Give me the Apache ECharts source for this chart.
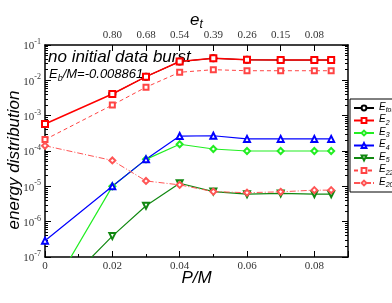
<!DOCTYPE html>
<html><head><meta charset="utf-8">
<script src="https://cdn.jsdelivr.net/npm/echarts@6/dist/echarts.min.js"></script>
<style>html,body{margin:0;padding:0;background:#fff}#c{width:392px;height:303px}</style>
</head><body><div id="c"></div>
<script>
// P/M positions of the data points
const pm = [0, 0.02, 0.03, 0.04, 0.05, 0.06, 0.07, 0.08, 0.085];
// top axis (e_t) tick positions and labels
const etPositions = [0.02, 0.03, 0.04, 0.05, 0.06, 0.07, 0.08];
const etLabels = ['0.80', '0.68', '0.54', '0.39', '0.26', '0.15', '0.08'];
// series values
const eTot = [null, 4.1e-3, 1.27e-2, 3.4e-2, 4.2e-2, 3.8e-2, 3.75e-2, 3.75e-2, 3.75e-2];
const e2   = [5.8e-4, 4.1e-3, 1.27e-2, 3.4e-2, 4.2e-2, 3.8e-2, 3.75e-2, 3.75e-2, 3.75e-2];
const e3   = [5.6e-9, 1.0e-5, 5.8e-5, 1.55e-4, 1.14e-4, 1.0e-4, 1.0e-4, 1.0e-4, 1.0e-4];
const e4   = [2.9e-7, 1.0e-5, 5.8e-5, 2.65e-4, 2.7e-4, 2.2e-4, 2.2e-4, 2.2e-4, 2.2e-4];
const e5   = [4.5e-9, 3.9e-7, 2.83e-6, 1.22e-5, 7.1e-6, 6.0e-6, 6.3e-6, 6.0e-6, 6.0e-6];
const e22  = [2.1e-4, 2.0e-3, 6.4e-3, 1.69e-2, 2.0e-2, 1.87e-2, 1.87e-2, 1.87e-2, 1.87e-2];
const e20  = [1.41e-4, 5.4e-5, 1.42e-5, 1.1e-5, 7.1e-6, 6.6e-6, 7.0e-6, 7.8e-6, 7.8e-6];

const minorLog = [];
for (let k = -7; k <= -2; k++) for (let m = 2; m <= 9; m++) minorLog.push(m * Math.pow(10, k));

const serif = 'Liberation Serif';
const sans = 'Liberation Sans';
const pair = arr => pm.map((x, i) => [x, arr[i]]);

const supLabel = {
  fontFamily: serif, fontSize: 11, color: '#333', margin: 4,
  formatter: v => '{b|10}{s|' + Math.round(Math.log10(v)) + '}',
  rich: {
    b: { fontFamily: serif, fontSize: 11, color: '#333', verticalAlign: 'bottom' },
    s: { fontFamily: serif, fontSize: 8, color: '#333', verticalAlign: 'bottom', padding: [0, 0, 6, 0] }
  }
};

function logAxis(pos, withLine, labels, minor) {
  return {
    type: 'log', logBase: 10, min: 1e-7, max: 1e-1, position: pos,
    axisLine: { show: withLine, onZero: false, lineStyle: { color: '#000', width: 1.5 } },
    axisTick: minor ? { show: true, inside: true, length: 3, customValues: minorLog, lineStyle: { color: '#000' } }
                    : { show: true, inside: true, length: 6, lineStyle: { color: '#000' } },
    axisLabel: labels ? supLabel : { show: false },
    splitLine: { show: false }
  };
}

const chart = echarts.init(document.getElementById('c'), null, { renderer: 'canvas' });
const option = {
  animation: false,
  backgroundColor: '#fff',
  grid: { left: 45, right: 44, top: 45, bottom: 46, containLabel: false, outerBoundsMode: 'none' },
  xAxis: [
    {
      type: 'value', min: 0, max: 0.09, interval: 0.02, position: 'bottom',
      axisLine: { onZero: false, lineStyle: { color: '#000', width: 1.5 } },
      axisTick: { inside: true, length: 6, lineStyle: { color: '#000' } },
      minorTick: { show: true, splitNumber: 2, length: 3, lineStyle: { color: '#000' } },
      splitLine: { show: false },
      axisLabel: { showMaxLabel: false, fontFamily: serif, fontSize: 11, color: '#333', margin: 4,
        formatter: v => v === 0 ? '0' : v.toFixed(2) },
      name: 'P/M', nameLocation: 'middle', nameGap: 13, nameMoveOverlap: false,
      nameTextStyle: { fontFamily: sans, fontStyle: 'italic', fontSize: 17, color: '#000', verticalAlign: 'top' }
    },
    {
      type: 'value', min: 0, max: 0.09, position: 'top',
      axisLine: { onZero: false, lineStyle: { color: '#000', width: 1.5 } },
      axisTick: { inside: true, length: 6, customValues: etPositions, lineStyle: { color: '#000' } },
      splitLine: { show: false },
      axisLabel: { customValues: etPositions, fontFamily: serif, fontSize: 11, color: '#333', margin: 4,
        formatter: v => { const i = etPositions.findIndex(p => Math.abs(p - v) < 1e-9); return i >= 0 ? etLabels[i] : ''; } },
      name: 'e{s|t}', nameLocation: 'middle', nameGap: 14, nameMoveOverlap: false,
      nameTextStyle: { fontFamily: sans, fontStyle: 'italic', fontSize: 17, color: '#000', verticalAlign: 'bottom',
        rich: { s: { fontFamily: sans, fontStyle: 'italic', fontSize: 12, verticalAlign: 'top', padding: [10, 0, 0, 0] } } }
    }
  ],
  yAxis: [
    Object.assign(logAxis('left', true, true, false), {
      name: 'energy distribution', nameLocation: 'middle', nameGap: 22, nameMoveOverlap: false,
      nameTextStyle: { fontFamily: sans, fontStyle: 'italic', fontSize: 17, color: '#000', padding: [0, 18, 0, 0] }
    }),
    logAxis('left', false, false, true),
    logAxis('right', true, false, false),
    logAxis('right', false, false, true)
  ],
  legend: {
    orient: 'vertical', left: 350, top: 99,
    itemWidth: 20, itemHeight: 6, itemGap: 0.5,
    padding: [3, 4, 3, 3],
    borderColor: '#000', borderWidth: 1, backgroundColor: '#fff',
    formatter: n => '{e|E}{s|' + n.split('_')[1] + '}',
    textStyle: { fontFamily: sans, fontStyle: 'italic', fontSize: 10, color: '#000', lineHeight: 12,
      rich: {
        e: { fontFamily: sans, fontStyle: 'italic', fontSize: 10, lineHeight: 12, verticalAlign: 'top' },
        s: { fontFamily: sans, fontStyle: 'italic', fontSize: 7, lineHeight: 12, verticalAlign: 'bottom' }
      } }
  },
  graphic: [
    { type: 'text', left: 48, top: 49, style: { text: 'no initial data burst', fontFamily: sans, fontStyle: 'italic', fontSize: 17, fill: '#000' } },
    { type: 'text', left: 49, top: 68, style: { text: 'E{s|b}/M=-0.008861', fontFamily: sans, fontStyle: 'italic', fontSize: 13, fill: '#000',
      rich: { s: { fontFamily: sans, fontStyle: 'italic', fontSize: 9, verticalAlign: 'top', padding: [7, 0, 0, 0] } } } }
  ],
  series: [
    { name: 'E_tot', type: 'line', data: pair(eTot), symbol: 'emptyCircle', symbolSize: 6,
      itemStyle: { color: '#000' }, lineStyle: { color: '#000', width: 1 } },
    { name: 'E_2', type: 'line', data: pair(e2), symbol: 'emptyRect', symbolSize: 6,
      itemStyle: { color: '#ff0000' }, lineStyle: { color: '#ff0000', width: 1.5 } },
    { name: 'E_3', type: 'line', data: pair(e3), symbol: 'emptyDiamond', symbolSize: 6,
      itemStyle: { color: '#22ee22' }, lineStyle: { color: '#22ee22', width: 1.2 } },
    { name: 'E_4', type: 'line', data: pair(e4), symbol: 'emptyTriangle', symbolSize: 6,
      itemStyle: { color: '#0000ff' }, lineStyle: { color: '#0000ff', width: 1.2 } },
    { name: 'E_5', type: 'line', data: pair(e5), symbol: 'emptyTriangle', symbolRotate: 180, symbolSize: 6,
      itemStyle: { color: '#118811' }, lineStyle: { color: '#118811', width: 1.2 } },
    { name: 'E_22', type: 'line', data: pair(e22), symbol: 'emptyRect', symbolSize: 5,
      itemStyle: { color: '#ff4444' }, lineStyle: { color: '#ff4444', width: 1, type: [4, 3] } },
    { name: 'E_20', type: 'line', data: pair(e20), symbol: 'emptyDiamond', symbolSize: 6,
      itemStyle: { color: '#ff5555' }, lineStyle: { color: '#ff5555', width: 1, type: [6, 2, 1, 2] } }
  ]
};
chart.setOption(option);
</script>
</body></html>
